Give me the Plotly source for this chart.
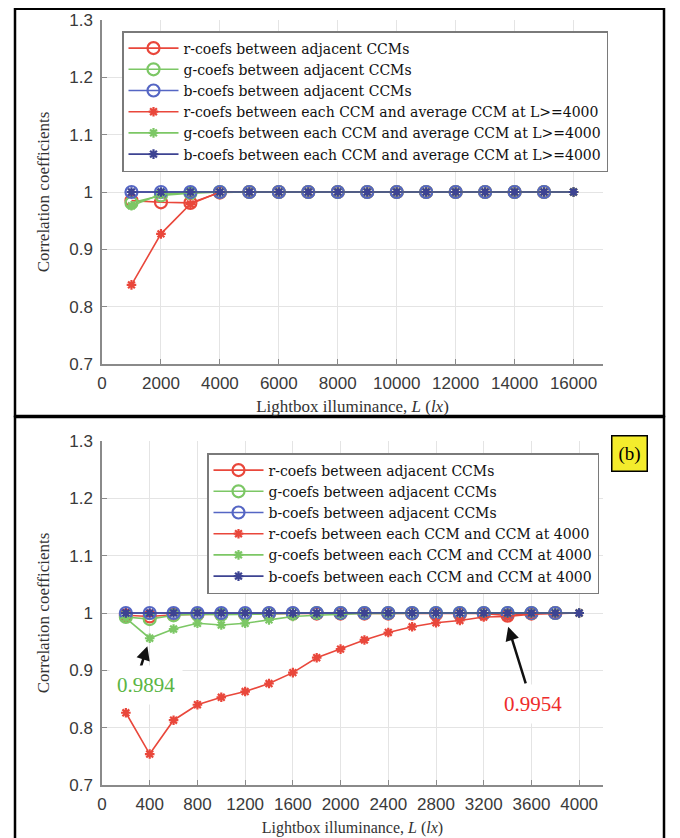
import plotly.graph_objects as go

# ---------------- data ----------------
# Panel (a): lightbox illuminance 1000..16000 lx
x_top_adj = [1000, 2000, 3000, 4000, 5000, 6000, 7000, 8000, 9000, 10000, 11000, 12000, 13000, 14000, 15000]
x_top_each = [1000, 2000, 3000, 4000, 5000, 6000, 7000, 8000, 9000, 10000, 11000, 12000, 13000, 14000, 15000, 16000]
r_adj_top = [0.985, 0.982, 0.981, 0.999, 1.0, 1.0, 1.0, 1.0, 1.0, 1.0, 1.0, 1.0, 1.0, 1.0, 1.0]
g_adj_top = [0.981, 0.994, 0.998, 1.0, 1.0, 1.0, 1.0, 1.0, 1.0, 1.0, 1.0, 1.0, 1.0, 1.0, 1.0]
b_adj_top = [1.0, 1.0, 1.0, 1.0, 1.0, 1.0, 1.0, 1.0, 1.0, 1.0, 1.0, 1.0, 1.0, 1.0, 1.0]
r_each_top = [0.838, 0.927, 0.979, 1.0, 1.0, 1.0, 1.0, 1.0, 1.0, 1.0, 1.0, 1.0, 1.0, 1.0, 1.0, 1.0]
g_each_top = [0.976, 0.996, 0.999, 1.0, 1.0, 1.0, 1.0, 1.0, 1.0, 1.0, 1.0, 1.0, 1.0, 1.0, 1.0, 1.0]
b_each_top = [1.0, 1.0, 1.0, 1.0, 1.0, 1.0, 1.0, 1.0, 1.0, 1.0, 1.0, 1.0, 1.0, 1.0, 1.0, 1.0]

# Panel (b): lightbox illuminance 200..4000 lx
x_bot_adj = [200, 400, 600, 800, 1000, 1200, 1400, 1600, 1800, 2000, 2200, 2400, 2600, 2800, 3000, 3200, 3400, 3600, 3800]
x_bot_each = [200, 400, 600, 800, 1000, 1200, 1400, 1600, 1800, 2000, 2200, 2400, 2600, 2800, 3000, 3200, 3400, 3600, 3800, 4000]
r_adj_bot = [0.996, 0.994, 0.997, 0.998, 0.998, 0.998, 0.999, 0.999, 0.999, 0.999, 0.999, 0.999, 0.999, 0.998, 0.998, 0.999, 0.9954, 0.999, 1.0]
g_adj_bot = [0.993, 0.9894, 0.996, 0.998, 0.997, 0.998, 0.999, 0.999, 1.0, 1.0, 1.0, 1.0, 1.0, 1.0, 1.0, 1.0, 1.0, 1.0, 1.0]
b_adj_bot = [1.0, 1.0, 1.0, 1.0, 1.0, 1.0, 1.0, 1.0, 1.0, 1.0, 1.0, 1.0, 1.0, 1.0, 1.0, 1.0, 1.0, 1.0, 1.0]
r_each_bot = [0.826, 0.754, 0.813, 0.840, 0.853, 0.863, 0.877, 0.896, 0.922, 0.937, 0.953, 0.966, 0.976, 0.983, 0.987, 0.993, 0.994, 0.998, 0.999, 1.0]
g_each_bot = [0.991, 0.956, 0.972, 0.982, 0.979, 0.982, 0.988, 0.994, 0.996, 0.998, 0.999, 0.999, 1.0, 1.0, 1.0, 1.0, 1.0, 1.0, 1.0, 1.0]
b_each_bot = [1.0, 1.0, 1.0, 1.0, 1.0, 1.0, 1.0, 1.0, 1.0, 1.0, 1.0, 1.0, 1.0, 1.0, 1.0, 1.0, 1.0, 1.0, 1.0, 1.0]

names_top = ["r-coefs between adjacent CCMs", "g-coefs between adjacent CCMs", "b-coefs between adjacent CCMs",
             "r-coefs between each CCM and average CCM at L>=4000",
             "g-coefs between each CCM and average CCM at L>=4000",
             "b-coefs between each CCM and average CCM at L>=4000"]
names_bot = ["r-coefs between adjacent CCMs", "g-coefs between adjacent CCMs", "b-coefs between adjacent CCMs",
             "r-coefs between each CCM and CCM at 4000",
             "g-coefs between each CCM and CCM at 4000",
             "b-coefs between each CCM and CCM at 4000"]

y_ticks = [0.7, 0.8, 0.9, 1.0, 1.1, 1.2, 1.3]
y_tick_labels = ["0.7", "0.8", "0.9", "1", "1.1", "1.2", "1.3"]
x_top_ticks = [0, 2000, 4000, 6000, 8000, 10000, 12000, 14000, 16000]
x_bot_ticks = [0, 400, 800, 1200, 1600, 2000, 2400, 2800, 3200, 3600, 4000]

ann_green_text = "0.9894"
ann_red_text = "0.9954"
panel_tag = "(b)"

# ---------------- styling ----------------
# the page body adds an 8px margin, so the figure is 672x830 and page
# coordinates are converted to paper coordinates with that offset
OFF = 8
W, H = 680 - OFF, 838 - OFF
RED = "#e9473b"
GREEN = "#7cc765"
BLUE = "#5566c4"
NAVY = "#3d4392"
SERIF = "Liberation Serif, Times New Roman, serif"
LEGSERIF = "DejaVu Serif, serif"
SANS = "Liberation Sans, Arial, sans-serif"
TICKC = "#3a3a3a"

def px_x(p):
    return (p - OFF) / W

def px_y(p):
    return 1 - (p - OFF) / H

fig = go.Figure()

def add_panel(xa, ya, legend, x_adj, x_each, adj, each, names):
    cols_adj = [RED, GREEN, BLUE]
    cols_each = [RED, GREEN, NAVY]
    for i in range(3):
        fig.add_trace(go.Scatter(
            x=x_adj, y=adj[i], mode="lines+markers", name=names[i],
            xaxis=xa, yaxis=ya, legend=legend,
            line=dict(color=cols_adj[i], width=1.6),
            marker=dict(symbol="circle-open", size=12, color=cols_adj[i], line=dict(width=2.2, color=cols_adj[i])),
        ))
    for i in range(3):
        fig.add_trace(go.Scatter(
            x=x_each, y=each[i], mode="lines+markers", name=names[3 + i],
            xaxis=xa, yaxis=ya, legend=legend,
            line=dict(color=cols_each[i], width=1.6),
            marker=dict(symbol="asterisk-open", size=8, color=cols_each[i], line=dict(width=2.2, color=cols_each[i])),
        ))

add_panel("x", "y", "legend", x_top_adj, x_top_each,
          [r_adj_top, g_adj_top, b_adj_top], [r_each_top, g_each_top, b_each_top], names_top)
add_panel("x2", "y2", "legend2", x_bot_adj, x_bot_each,
          [r_adj_bot, g_adj_bot, b_adj_bot], [r_each_bot, g_each_bot, b_each_bot], names_bot)

x_dom = [px_x(102), px_x(603)]
common_axis = dict(showline=True, linecolor="#8a8a8a", linewidth=1.5, ticks="inside", ticklen=5,
                   tickcolor="#8a8a8a", tickwidth=1.2, showgrid=True, gridcolor="#e4e4e4", gridwidth=1,
                   zeroline=False, mirror=False, automargin=False,
                   tickfont=dict(family=SANS, size=17, color=TICKC))

xtitle_top = dict(text="Lightbox illuminance, <i>L</i> (<i>lx</i>)", font=dict(family=SERIF, size=17, color="#333333"), standoff=8)
xtitle_bot = dict(text="Lightbox illuminance, <i>L</i> (<i>lx</i>)", font=dict(family=SERIF, size=16, color="#333333"), standoff=9)
ytitle = dict(text="Correlation coefficients", font=dict(family=SERIF, size=17, color="#333333"), standoff=15)

leg_common = dict(xanchor="left", yanchor="top", bgcolor="white", bordercolor="#7a7a7a", borderwidth=1.5,
                  font=dict(family=LEGSERIF, size=14, color="#111111"), itemwidth=50, tracegroupgap=0)

fig.update_layout(
    width=W, height=H, margin=dict(l=0, r=0, t=0, b=0, autoexpand=False),
    paper_bgcolor="white", plot_bgcolor="white",
    xaxis=dict(domain=x_dom, range=[0, 17000], tickvals=x_top_ticks, ticktext=[str(v) for v in x_top_ticks],
               anchor="y", title=xtitle_top, ticklabelstandoff=3, **common_axis),
    yaxis=dict(domain=[px_y(364), px_y(20)], range=[0.7, 1.3], tickvals=y_ticks, ticktext=y_tick_labels,
               anchor="x", title=ytitle, ticklabelstandoff=4, **common_axis),
    xaxis2=dict(domain=x_dom, range=[0, 4200], tickvals=x_bot_ticks, ticktext=[str(v) for v in x_bot_ticks],
                anchor="y2", title=xtitle_bot, ticklabelstandoff=3, **common_axis),
    yaxis2=dict(domain=[px_y(785), px_y(441)], range=[0.7, 1.3], tickvals=y_ticks, ticktext=y_tick_labels,
                anchor="x2", title=ytitle, ticklabelstandoff=4, **common_axis),
    legend=dict(x=px_x(122), y=px_y(31), **leg_common),
    legend2=dict(x=px_x(207), y=px_y(453), **leg_common),
    showlegend=True,
)

# panel borders
fig.add_shape(type="rect", xref="paper", yref="paper", x0=px_x(15), x1=px_x(664), y0=px_y(416), y1=0.999,
              line=dict(color="black", width=2.5))
fig.add_shape(type="rect", xref="paper", yref="paper", x0=px_x(15), x1=px_x(664), y0=px_y(850), y1=px_y(417),
              line=dict(color="black", width=2.5))

# arrows
fig.add_annotation(xref="x2", yref="y2", x=380, y=0.942, ax=-7, ay=22, text="", showarrow=True,
                   arrowhead=2, arrowsize=1.1, arrowwidth=2.5, arrowcolor="#111111")
fig.add_annotation(xref="x2", yref="y2", x=3405, y=0.976, ax=18, ay=58, text="", showarrow=True,
                   arrowhead=2, arrowsize=1.1, arrowwidth=2.5, arrowcolor="#111111")

# value labels
fig.add_annotation(xref="paper", yref="paper", x=px_x(146), y=px_y(685), xanchor="center", yanchor="middle",
                   text=ann_green_text, showarrow=False,
                   font=dict(family=SERIF, size=21, color="#5ab544"), bgcolor="white", borderpad=7)
fig.add_annotation(xref="paper", yref="paper", x=px_x(533), y=px_y(704), xanchor="center", yanchor="middle",
                   text=ann_red_text, showarrow=False,
                   font=dict(family=SERIF, size=21, color="#ee2b2b"), bgcolor="white", borderpad=7)

# panel tag
fig.add_annotation(xref="paper", yref="paper", x=px_x(629.5), y=px_y(453.5), xanchor="center", yanchor="middle",
                   text=panel_tag, showarrow=False,
                   font=dict(family=SERIF, size=19, color="black"), bgcolor="#f4ec2c",
                   bordercolor="black", borderwidth=1.5, borderpad=6)

fig.write_html("out.html")
